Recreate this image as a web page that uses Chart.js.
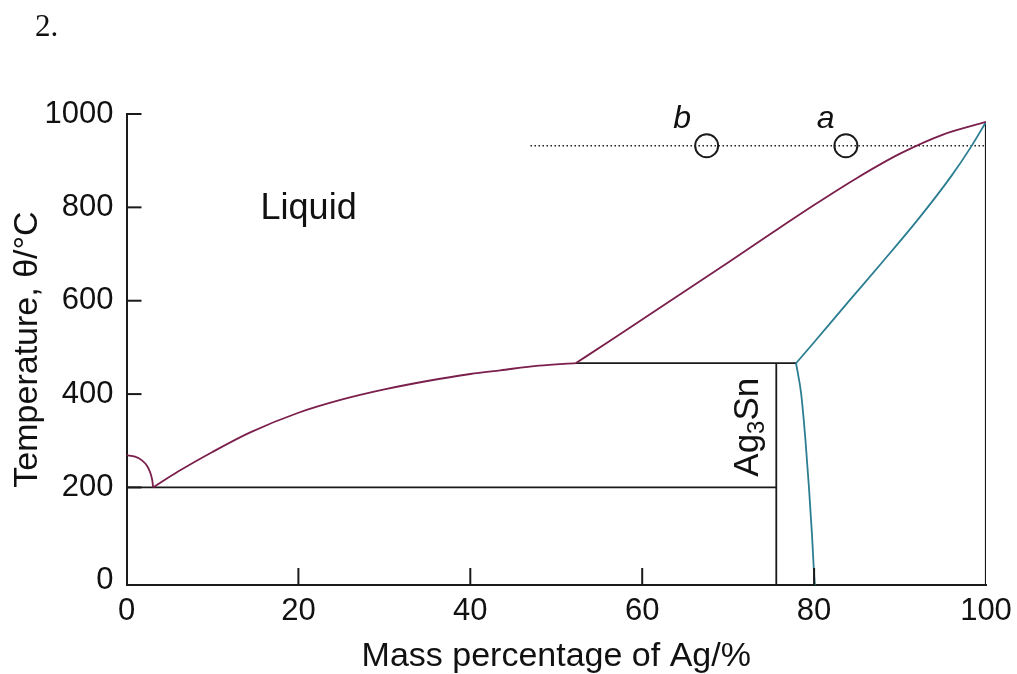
<!DOCTYPE html>
<html>
<head>
<meta charset="utf-8">
<script src="https://cdn.jsdelivr.net/npm/chart.js@4.4.1/dist/chart.umd.min.js"></script>
<style>
  body { margin: 0; background: #fff; }
</style>
</head>
<body>
<canvas id="grafico" width="1017" height="674"></canvas>
<script>
// Sn-Ag phase diagram
const xTicks = [0, 20, 40, 60, 80, 100];
const yTicks = [0, 200, 400, 600, 800, 1000];

// Sn side liquidus down to the eutectic
const snLiqX = [0, 1, 1.8, 2.4, 2.8, 3.0, 3.1];
const snLiqT = [269, 266, 258, 246, 230, 215, 200];

// liquidus eutectic -> peritectic
const liq1X = [3.1, 6, 10, 14.4, 20, 25, 30, 35, 40, 43.5, 48, 52.3];
const liq1T = [200, 234, 276, 318, 360, 388, 410, 428, 443, 451, 461, 466.5];

// liquidus peritectic -> pure Ag
const liq2X = [52.3, 56, 60, 65, 70, 75, 80, 85, 90, 95, 100];
const liq2T = [466.5, 511, 560, 621, 682, 744, 805, 863, 915, 956, 983];

// solidus of the Ag solid solution
const solX = [77.9, 80, 84, 88, 92, 96, 98.2, 100];
const solT = [466, 511, 598, 684, 772, 868, 928, 983];

// solvus
const solvX = [77.9, 78.5, 79.0, 79.4, 79.75, 80.05, 80.1];
const solvT = [466, 400, 300, 200, 100, 0, -9];

const eutecticT = 200;
const peritecticT = 466.5;
const ag3snX = 75.6;
const tieT = 932;
const tieX = [47, 100];
const pointsX = [67.5, 83.7];

const yMin = -9;
const purple = '#7b1f4c';
const teal = '#2b7e92';
const ink = '#1a1a1a';
const sans = "'Liberation Sans', Arial, sans-serif";

const xy = (xs, ys) => xs.map((x, i) => ({ x: x, y: ys[i] }));

function line(data, color, extra) {
    return Object.assign({
        data: data,
        showLine: true,
        borderColor: color,
        borderWidth: 1.8,
        pointRadius: 0,
        fill: false
    }, extra || {});
}

const decor = {
    id: 'decor',
    afterDraw(chart) {
        const c = chart.ctx;
        const xs = chart.scales.x;
        const ys = chart.scales.y;
        c.save();
        c.strokeStyle = ink;
        c.lineWidth = 2;
        // ticks point into the plot
        xTicks.forEach(v => {
            if (v === 0 || v === 100) return;
            const px = xs.getPixelForValue(v);
            c.beginPath();
            c.moveTo(px, ys.bottom);
            c.lineTo(px, ys.bottom - 17);
            c.stroke();
        });
        yTicks.forEach(v => {
            if (v === 0) return;
            const py = ys.getPixelForValue(v);
            c.beginPath();
            c.moveTo(xs.left, py);
            c.lineTo(xs.left + 15, py);
            c.stroke();
        });

        c.fillStyle = '#111';
        c.textAlign = 'left';
        c.textBaseline = 'alphabetic';
        c.font = '36px ' + sans;
        c.fillText('Liquid', xs.getPixelForValue(15.6), ys.getPixelForValue(776));

        c.font = 'italic 32px ' + sans;
        c.fillText('b', xs.getPixelForValue(63.6), ys.getPixelForValue(970));
        c.fillText('a', xs.getPixelForValue(80.3), ys.getPixelForValue(970));

        // Ag3Sn, turned on its side
        c.translate(xs.getPixelForValue(72.3), ys.getPixelForValue(329));
        c.rotate(-Math.PI / 2);
        const big = '35px ' + sans;
        const small = '24px ' + sans;
        c.font = big;
        const wAg = c.measureText('Ag').width;
        const wSn = c.measureText('Sn').width;
        c.font = small;
        const w3 = c.measureText('3').width;
        const x0 = -(wAg + w3 + wSn) / 2;
        c.textBaseline = 'middle';
        c.font = big;
        c.fillText('Ag', x0, 0);
        c.font = small;
        c.fillText('3', x0 + wAg, 9);
        c.font = big;
        c.fillText('Sn', x0 + wAg + w3, 0);
        c.setTransform(1, 0, 0, 1, 0, 0);

        c.font = "31px 'Liberation Serif', 'Times New Roman', serif";
        c.textBaseline = 'alphabetic';
        c.fillText('2.', 35, 36);
        c.restore();
    }
};

const ctx = document.getElementById('grafico');

new Chart(ctx, {
    type: 'scatter',
    data: {
        datasets: [
            line(xy(snLiqX, snLiqT), purple, { cubicInterpolationMode: 'monotone' }),
            line(xy(liq1X, liq1T), purple, { cubicInterpolationMode: 'monotone' }),
            line(xy(liq2X, liq2T), purple, { cubicInterpolationMode: 'monotone' }),
            line(xy(solX, solT), teal, { cubicInterpolationMode: 'monotone' }),
            line(xy(solvX, solvT), teal, { cubicInterpolationMode: 'monotone' }),
            line([{ x: 0, y: eutecticT }, { x: ag3snX, y: eutecticT }], ink),
            line([{ x: liq1X[liq1X.length - 1], y: peritecticT }, { x: solX[0], y: peritecticT }], ink),
            line([{ x: ag3snX, y: yMin }, { x: ag3snX, y: peritecticT }], ink),
            line([{ x: 100, y: yMin }, { x: 100, y: liq2T[liq2T.length - 1] }], ink, { borderWidth: 2.2 }),
            line([{ x: tieX[0], y: tieT }, { x: tieX[1], y: tieT }], ink, { borderWidth: 1.5, borderDash: [1.5, 2.5] }),
            {
                data: pointsX.map(x => ({ x: x, y: tieT })),
                showLine: false,
                pointRadius: 11.5,
                pointBorderWidth: 2,
                pointBorderColor: ink,
                pointBackgroundColor: '#fff'
            }
        ]
    },
    options: {
        responsive: false,
        animation: false,
        devicePixelRatio: 1,
        layout: { padding: { top: 114, right: 31, left: 0, bottom: 0 } },
        plugins: {
            legend: { display: false },
            tooltip: { enabled: false }
        },
        scales: {
            x: {
                type: 'linear',
                min: 0,
                max: 100,
                afterBuildTicks: s => { s.ticks = xTicks.map(v => ({ value: v })); },
                afterFit: s => { s.height = 89; s.paddingLeft = 0; s.paddingRight = 0; },
                grid: { display: true, drawOnChartArea: false, drawTicks: false },
                border: { display: true, color: ink, width: 2 },
                ticks: {
                    color: '#111',
                    padding: 8,
                    callback: v => String(v),
                    font: { family: sans, size: 31 }
                },
                title: {
                    display: true,
                    text: 'Mass percentage of Ag/%',
                    color: '#111',
                    padding: { top: 0, bottom: -3 },
                    font: { family: sans, size: 34 }
                }
            },
            y: {
                type: 'linear',
                min: yMin,
                max: 1000,
                afterBuildTicks: s => { s.ticks = yTicks.map(v => ({ value: v })); },
                afterFit: s => { s.width = 126.5; s.paddingTop = 0; s.paddingBottom = 0; },
                grid: { display: true, drawOnChartArea: false, drawTicks: false },
                border: { display: true, color: ink, width: 2 },
                ticks: {
                    color: '#111',
                    padding: 13,
                    callback: v => String(v),
                    font: { family: sans, size: 31 }
                },
                title: {
                    display: true,
                    text: 'Temperature, θ/°C',
                    color: '#111',
                    padding: { top: 7, bottom: 0 },
                    font: { family: sans, size: 34 }
                }
            }
        }
    },
    plugins: [decor]
});
</script>
</body>
</html>
